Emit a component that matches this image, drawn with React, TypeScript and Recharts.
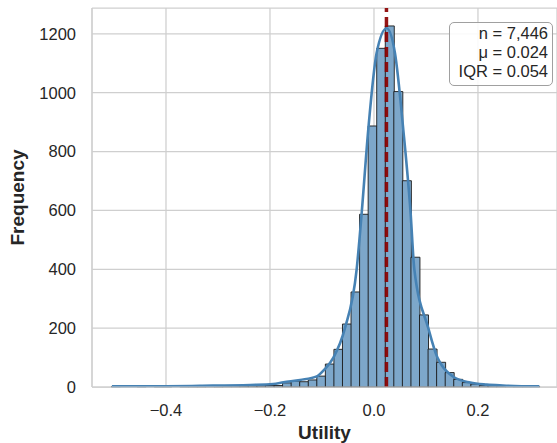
import { ComposedChart, Bar, Line, XAxis, YAxis, CartesianGrid, ReferenceLine } from 'recharts';

// histogram bins (50 bins)
const binStart = -0.505;
const binWidth = 0.01646;
const binCounts = [
  1, 0, 0, 1, 0, 1, 1, 0, 1, 1,
  1, 2, 1, 2, 3, 3, 4, 4, 5, 5,
  14, 20, 18, 24, 37, 78, 128, 214, 323, 587,
  887, 1151, 1227, 1004, 701, 441, 245, 129, 84, 49,
  26, 15, 10, 5, 4, 2, 2, 1, 1, 1,
];

// KDE curve, scaled to counts
const kdeX = [
  -0.504, -0.4, -0.335, -0.238, -0.194, -0.174, -0.142, -0.11, -0.095, -0.078,
  -0.0558, -0.0333, -0.0237, -0.011, 0.005, 0.0244, 0.0404, 0.0564, 0.0705, 0.0776,
  0.1045, 0.122, 0.13, 0.1525, 0.185, 0.217, 0.248, 0.318,
];
const kdeY = [
  2, 2.5, 4, 7, 10, 16, 24, 36, 60, 100,
  200, 400, 590, 874, 1134, 1219, 1134, 874, 590, 400,
  200, 100, 75, 35, 15, 8, 5, 2,
];

const xTicks = [-0.4, -0.2, 0, 0.2];
const yTicks = [0, 200, 400, 600, 800, 1000, 1200];
const meanUtility = 0.024;
const statLines = ['n = 7,446', 'μ = 0.024', 'IQR = 0.054'];

const X_DOMAIN: [number, number] = [-0.5423, 0.352];
const Y_DOMAIN: [number, number] = [0, 1288];

const histData = binCounts.map((count, i) => ({ x: binStart + (i + 0.5) * binWidth, count }));
const kdeData = kdeX.map((x, i) => ({ x, density: kdeY[i] }));

const FONT = '"Liberation Sans", Arial, sans-serif';
const TEXT = '#262626';
const GRID = '#cfcfcf';

const fmtX = (v: number) => v.toFixed(1).replace('-', '\u2212');

export default function App() {
  return (
    <div style={{ position: 'absolute', left: 0, top: 0, width: 557, height: 443, fontFamily: FONT }}>
      <ComposedChart
        width={557}
        height={443}
        data={histData}
        margin={{ top: 8, right: 0, bottom: 0, left: 0 }}
        barCategoryGap={0}
        barGap={0}
      >
        <CartesianGrid stroke={GRID} strokeWidth={1.25} />
        <XAxis
          dataKey="x"
          type="number"
          domain={X_DOMAIN}
          allowDataOverflow
          ticks={xTicks}
          tickFormatter={fmtX}
          tickLine={false}
          tickSize={6}
          tickMargin={11}
          height={56}
          axisLine={{ stroke: GRID, strokeWidth: 1.25 }}
          tick={{ fill: TEXT, fontSize: 16.5, fontFamily: FONT }}
          label={{
            value: 'Utility',
            position: 'insideBottom',
            offset: 4,
            style: { fill: TEXT, fontSize: 19, fontWeight: 'bold', fontFamily: FONT },
          }}
        />
        <XAxis xAxisId="kde" dataKey="x" type="number" domain={X_DOMAIN} allowDataOverflow hide />
        <YAxis
          type="number"
          domain={Y_DOMAIN}
          ticks={yTicks}
          width={92}
          tickLine={false}
          tickSize={6}
          tickMargin={10}
          axisLine={{ stroke: GRID, strokeWidth: 1.25 }}
          tick={{ fill: TEXT, fontSize: 16.5, fontFamily: FONT }}
          label={{
            value: 'Frequency',
            angle: -90,
            position: 'insideLeft',
            offset: 17,
            style: { fill: TEXT, fontSize: 19, fontWeight: 'bold', fontFamily: FONT, textAnchor: 'middle' },
          }}
        />
        <Bar dataKey="count" fill="#7DA7CA" stroke="#1a1a1a" strokeWidth={0.9} isAnimationActive={false} />
        <Line
          xAxisId="kde"
          data={kdeData}
          dataKey="density"
          type="monotone"
          dot={false}
          stroke="#4682B4"
          strokeWidth={2.6}
          isAnimationActive={false}
        />
        <ReferenceLine
          x={meanUtility}
          stroke="#8B0000"
          strokeOpacity={0.92}
          strokeWidth={3.5}
          strokeDasharray="10 5"
        />
      </ComposedChart>
      <div
        style={{
          position: 'absolute',
          left: 449,
          top: 22,
          width: 104,
          height: 64,
          boxSizing: 'border-box',
          border: '1px solid #a0a0a0',
          borderRadius: 5,
          background: 'rgba(255,255,255,0.88)',
          color: TEXT,
          fontSize: 16.5,
          lineHeight: '19.3px',
          textAlign: 'right',
          padding: '0.6px 4px 0 0',
          whiteSpace: 'pre',
        }}
      >
        {statLines.join('\n')}
      </div>
    </div>
  );
}
